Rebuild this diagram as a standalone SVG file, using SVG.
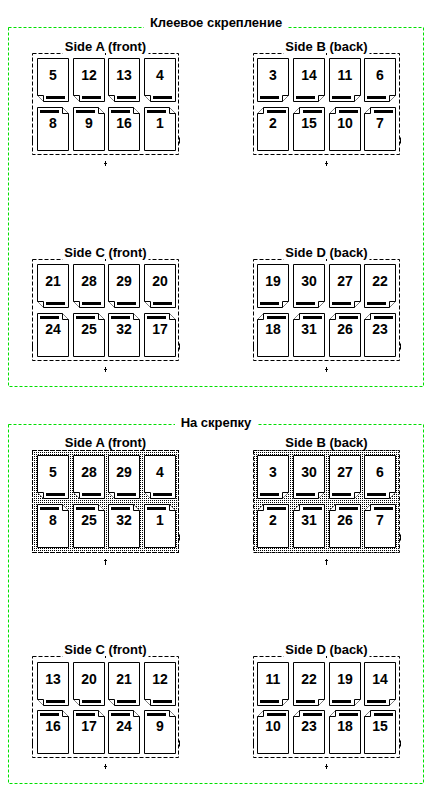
<svg xmlns="http://www.w3.org/2000/svg" xmlns:xlink="http://www.w3.org/1999/xlink" width="433" height="793" viewBox="0 0 433 793">
<style>
.frame{fill:none;stroke:#00e000;stroke-width:1;stroke-dasharray:3,2}
.box{fill:none;stroke:#000;stroke-width:1;stroke-dasharray:4,2}
.title{font-family:"Liberation Sans",Arial,sans-serif;font-weight:bold;font-size:13px;fill:#000;text-anchor:middle}
.lbl{font-family:"Liberation Sans",Arial,sans-serif;font-weight:bold;font-size:13px;fill:#000;text-anchor:middle}
.num{font-family:"Liberation Sans",Arial,sans-serif;font-weight:bold;font-size:14px;fill:#000;text-anchor:middle}
.pg{fill:#fff;stroke:#000;stroke-width:1}
.flap{fill:#fff;stroke:#000;stroke-width:1}
.mk{fill:none;stroke:#000;stroke-width:1}
.bg{fill:#fff}
</style>
<defs>
<pattern id="stip" patternUnits="userSpaceOnUse" x="0" y="0" width="2" height="2">
<rect x="0" y="0" width="2" height="2" fill="#fff"/>
<rect x="0" y="0" width="1" height="1" fill="#000"/>
</pattern>
<g id="pgBL">
<path class="pg" d="M0.5,0.5H31.5V43.5H6.5L0.5,37.5Z"/>
<path class="flap" d="M0.5,37.5H6.5V43.5"/>
<rect x="9" y="38" width="19" height="3" fill="#000"/>
</g>
<g id="pgTR">
<path class="pg" d="M0.5,0.5H25.5L31.5,6.5V43.5H0.5Z"/>
<path class="flap" d="M25.5,0.5V6.5H31.5"/>
<rect x="3" y="3" width="19" height="3" fill="#000"/>
</g>
<g id="pgBR">
<path class="pg" d="M0.5,0.5H31.5V37.5L25.5,43.5H0.5Z"/>
<path class="flap" d="M31.5,37.5H25.5V43.5"/>
<rect x="3" y="38" width="19" height="3" fill="#000"/>
</g>
<g id="pgTL">
<path class="pg" d="M6.5,0.5H31.5V43.5H0.5V6.5Z"/>
<path class="flap" d="M0.5,6.5H6.5V0.5"/>
<rect x="10" y="3" width="19" height="3" fill="#000"/>
</g>
</defs>

<rect width="433" height="793" fill="#fff"/>

<g id="section-perfect-binding">
<rect class="frame" x="8.5" y="27.5" width="415" height="359"/>
<rect class="bg" x="144" y="14" width="144" height="15"/>
<text class="title" x="216" y="27">Клеевое скрепление</text>
</g>

<g id="section-saddle-stitch">
<rect class="frame" x="8.5" y="424.5" width="415" height="359"/>
<rect class="bg" x="175" y="412" width="82" height="17"/>
<text class="title" x="216" y="427">На скрепку</text>
</g>

<!-- Section 1 Side A -->
<g id="s1-sideA">
<rect class="box" x="32.5" y="53.5" width="146" height="101"/>
<rect class="bg" x="62.5" y="38" width="86" height="16"/>
<text class="lbl" x="105.5" y="51">Side A (front)</text>
<path class="mk" d="M105.5,53v2M105.5,161v5M104,163.5h3M32.5,138v6M178.5,137l1,1v5l-1,1"/>
<use xlink:href="#pgBL" x="37" y="58"/><use xlink:href="#pgBL" x="73" y="58"/><use xlink:href="#pgBL" x="108" y="58"/><use xlink:href="#pgBL" x="144" y="58"/>
<use xlink:href="#pgTR" x="37" y="107"/><use xlink:href="#pgTR" x="73" y="107"/><use xlink:href="#pgTR" x="108" y="107"/><use xlink:href="#pgTR" x="144" y="107"/>
<text class="num" x="53" y="80">5</text><text class="num" x="89" y="80">12</text><text class="num" x="124" y="80">13</text><text class="num" x="160" y="80">4</text>
<text class="num" x="53" y="128">8</text><text class="num" x="89" y="128">9</text><text class="num" x="124" y="128">16</text><text class="num" x="160" y="128">1</text>
</g>

<!-- Section 1 Side B -->
<g id="s1-sideB">
<rect class="box" x="253.5" y="53.5" width="146" height="101"/>
<rect class="bg" x="283.5" y="38" width="86" height="16"/>
<text class="lbl" x="326.5" y="51">Side B (back)</text>
<path class="mk" d="M326.5,53v2M326.5,161v5M325,163.5h3M253.5,138v6M399.5,137l1,1v5l-1,1"/>
<use xlink:href="#pgBR" x="257" y="58"/><use xlink:href="#pgBR" x="293" y="58"/><use xlink:href="#pgBR" x="329" y="58"/><use xlink:href="#pgBR" x="364" y="58"/>
<use xlink:href="#pgTL" x="257" y="107"/><use xlink:href="#pgTL" x="293" y="107"/><use xlink:href="#pgTL" x="329" y="107"/><use xlink:href="#pgTL" x="364" y="107"/>
<text class="num" x="273" y="80">3</text><text class="num" x="309" y="80">14</text><text class="num" x="345" y="80">11</text><text class="num" x="380" y="80">6</text>
<text class="num" x="273" y="128">2</text><text class="num" x="309" y="128">15</text><text class="num" x="345" y="128">10</text><text class="num" x="380" y="128">7</text>
</g>

<!-- Section 1 Side C -->
<g id="s1-sideC">
<rect class="box" x="32.5" y="259.5" width="146" height="101"/>
<rect class="bg" x="62.5" y="244" width="86" height="16"/>
<text class="lbl" x="105.5" y="257">Side C (front)</text>
<path class="mk" d="M105.5,259v2M105.5,367v5M104,369.5h3M32.5,344v6M178.5,343l1,1v5l-1,1"/>
<use xlink:href="#pgBL" x="37" y="264"/><use xlink:href="#pgBL" x="73" y="264"/><use xlink:href="#pgBL" x="108" y="264"/><use xlink:href="#pgBL" x="144" y="264"/>
<use xlink:href="#pgTR" x="37" y="313"/><use xlink:href="#pgTR" x="73" y="313"/><use xlink:href="#pgTR" x="108" y="313"/><use xlink:href="#pgTR" x="144" y="313"/>
<text class="num" x="53" y="286">21</text><text class="num" x="89" y="286">28</text><text class="num" x="124" y="286">29</text><text class="num" x="160" y="286">20</text>
<text class="num" x="53" y="334">24</text><text class="num" x="89" y="334">25</text><text class="num" x="124" y="334">32</text><text class="num" x="160" y="334">17</text>
</g>

<!-- Section 1 Side D -->
<g id="s1-sideD">
<rect class="box" x="253.5" y="259.5" width="146" height="101"/>
<rect class="bg" x="283.5" y="244" width="86" height="16"/>
<text class="lbl" x="326.5" y="257">Side D (back)</text>
<path class="mk" d="M326.5,259v2M326.5,367v5M325,369.5h3M253.5,344v6M399.5,343l1,1v5l-1,1"/>
<use xlink:href="#pgBR" x="257" y="264"/><use xlink:href="#pgBR" x="293" y="264"/><use xlink:href="#pgBR" x="329" y="264"/><use xlink:href="#pgBR" x="364" y="264"/>
<use xlink:href="#pgTL" x="257" y="313"/><use xlink:href="#pgTL" x="293" y="313"/><use xlink:href="#pgTL" x="329" y="313"/><use xlink:href="#pgTL" x="364" y="313"/>
<text class="num" x="273" y="286">19</text><text class="num" x="309" y="286">30</text><text class="num" x="345" y="286">27</text><text class="num" x="380" y="286">22</text>
<text class="num" x="273" y="334">18</text><text class="num" x="309" y="334">31</text><text class="num" x="345" y="334">26</text><text class="num" x="380" y="334">23</text>
</g>

<!-- Section 2 Side A -->
<g id="s2-sideA">
<rect x="32" y="450" width="147" height="103" fill="url(#stip)"/>
<rect class="box" x="32.5" y="450.5" width="146" height="102"/>
<rect class="bg" x="62.5" y="434" width="86" height="15"/>
<text class="lbl" x="105.5" y="447">Side A (front)</text>
<path class="mk" d="M105.5,559v6M104,560.5h3M32.5,535v6M178.5,534l1,1v5l-1,1"/>
<use xlink:href="#pgBL" x="37" y="455"/><use xlink:href="#pgBL" x="73" y="455"/><use xlink:href="#pgBL" x="108" y="455"/><use xlink:href="#pgBL" x="144" y="455"/>
<use xlink:href="#pgTR" x="37" y="504"/><use xlink:href="#pgTR" x="73" y="504"/><use xlink:href="#pgTR" x="108" y="504"/><use xlink:href="#pgTR" x="144" y="504"/>
<text class="num" x="53" y="477">5</text><text class="num" x="89" y="477">28</text><text class="num" x="124" y="477">29</text><text class="num" x="160" y="477">4</text>
<text class="num" x="53" y="525">8</text><text class="num" x="89" y="525">25</text><text class="num" x="124" y="525">32</text><text class="num" x="160" y="525">1</text>
</g>

<!-- Section 2 Side B -->
<g id="s2-sideB">
<rect x="253" y="450" width="147" height="103" fill="url(#stip)"/>
<rect class="box" x="253.5" y="450.5" width="146" height="102"/>
<rect class="bg" x="283.5" y="434" width="86" height="15"/>
<text class="lbl" x="326.5" y="447">Side B (back)</text>
<path class="mk" d="M326.5,559v6M325,560.5h3M253.5,535v6M399.5,534l1,1v5l-1,1"/>
<use xlink:href="#pgBR" x="257" y="455"/><use xlink:href="#pgBR" x="293" y="455"/><use xlink:href="#pgBR" x="329" y="455"/><use xlink:href="#pgBR" x="364" y="455"/>
<use xlink:href="#pgTL" x="257" y="504"/><use xlink:href="#pgTL" x="293" y="504"/><use xlink:href="#pgTL" x="329" y="504"/><use xlink:href="#pgTL" x="364" y="504"/>
<text class="num" x="273" y="477">3</text><text class="num" x="309" y="477">30</text><text class="num" x="345" y="477">27</text><text class="num" x="380" y="477">6</text>
<text class="num" x="273" y="525">2</text><text class="num" x="309" y="525">31</text><text class="num" x="345" y="525">26</text><text class="num" x="380" y="525">7</text>
</g>

<!-- Section 2 Side C -->
<g id="s2-sideC">
<rect class="box" x="32.5" y="656.5" width="146" height="101"/>
<rect class="bg" x="62.5" y="641" width="86" height="16"/>
<text class="lbl" x="105.5" y="654">Side C (front)</text>
<path class="mk" d="M105.5,656v2M105.5,764v5M104,766.5h3M32.5,741v6M178.5,740l1,1v5l-1,1"/>
<use xlink:href="#pgBL" x="37" y="662"/><use xlink:href="#pgBL" x="73" y="662"/><use xlink:href="#pgBL" x="108" y="662"/><use xlink:href="#pgBL" x="144" y="662"/>
<use xlink:href="#pgTR" x="37" y="710"/><use xlink:href="#pgTR" x="73" y="710"/><use xlink:href="#pgTR" x="108" y="710"/><use xlink:href="#pgTR" x="144" y="710"/>
<text class="num" x="53" y="684">13</text><text class="num" x="89" y="684">20</text><text class="num" x="124" y="684">21</text><text class="num" x="160" y="684">12</text>
<text class="num" x="53" y="731">16</text><text class="num" x="89" y="731">17</text><text class="num" x="124" y="731">24</text><text class="num" x="160" y="731">9</text>
</g>

<!-- Section 2 Side D -->
<g id="s2-sideD">
<rect class="box" x="253.5" y="656.5" width="146" height="101"/>
<rect class="bg" x="283.5" y="641" width="86" height="16"/>
<text class="lbl" x="326.5" y="654">Side D (back)</text>
<path class="mk" d="M326.5,656v2M326.5,764v5M325,766.5h3M253.5,741v6M399.5,740l1,1v5l-1,1"/>
<use xlink:href="#pgBR" x="257" y="662"/><use xlink:href="#pgBR" x="293" y="662"/><use xlink:href="#pgBR" x="329" y="662"/><use xlink:href="#pgBR" x="364" y="662"/>
<use xlink:href="#pgTL" x="257" y="710"/><use xlink:href="#pgTL" x="293" y="710"/><use xlink:href="#pgTL" x="329" y="710"/><use xlink:href="#pgTL" x="364" y="710"/>
<text class="num" x="273" y="684">11</text><text class="num" x="309" y="684">22</text><text class="num" x="345" y="684">19</text><text class="num" x="380" y="684">14</text>
<text class="num" x="273" y="731">10</text><text class="num" x="309" y="731">23</text><text class="num" x="345" y="731">18</text><text class="num" x="380" y="731">15</text>
</g>
</svg>
